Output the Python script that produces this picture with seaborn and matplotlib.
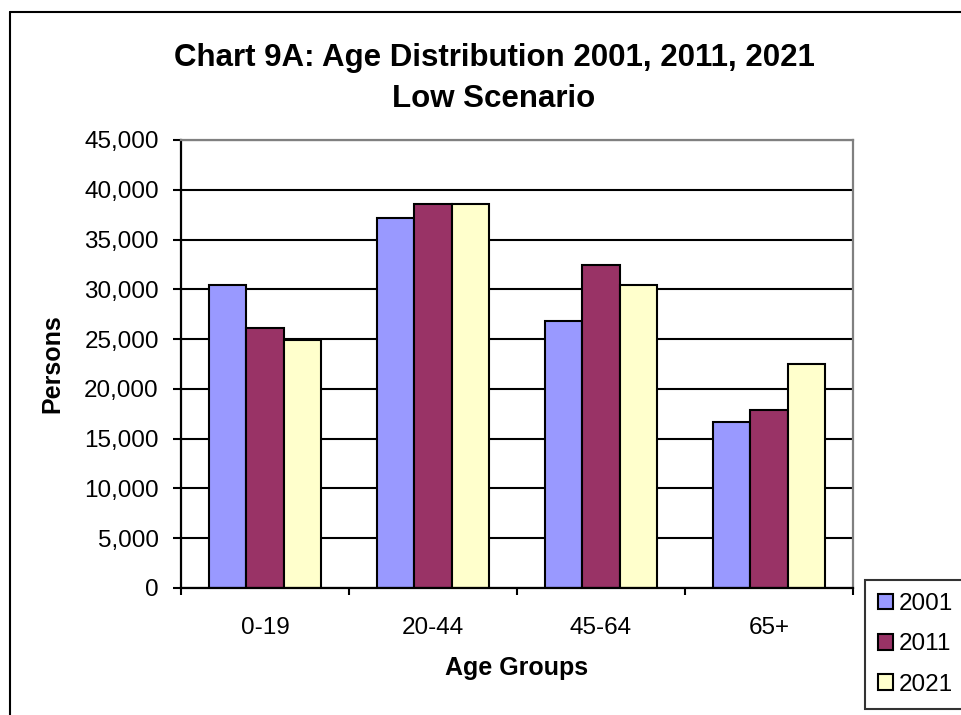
import matplotlib
matplotlib.use("Agg")
import matplotlib.pyplot as plt
import seaborn as sns
import pandas as pd
from matplotlib.lines import Line2D
from matplotlib.ticker import FuncFormatter, MultipleLocator, FixedLocator

age_groups = ["0-19", "20-44", "45-64", "65+"]
years = ["2001", "2011", "2021"]
values_2001 = [30400, 37200, 26800, 16700]
values_2011 = [26100, 38600, 32400, 17900]
values_2021 = [24900, 38600, 30400, 22500]
colors = ["#9999FF", "#993366", "#FFFFCC"]

title_line1 = "Chart 9A: Age Distribution 2001, 2011, 2021"
title_line2 = "Low Scenario"

df = pd.DataFrame({
    "Age Groups": age_groups * 3,
    "Year": [y for y in years for _ in age_groups],
    "Persons": values_2001 + values_2011 + values_2021,
})

sns.set_theme(style="white")
plt.rcParams['font.family'] = ['Liberation Sans', 'DejaVu Sans']

W, H = 961, 715
fig = plt.figure(figsize=(W / 100, H / 100), dpi=100)
ax = fig.add_axes([181 / W, 1 - 588 / H, 672 / W, 448 / H])

sns.barplot(data=df, x="Age Groups", y="Persons", hue="Year", palette=colors,
            width=0.667, gap=0, edgecolor="black", linewidth=1.5,
            saturation=1, errorbar=None, ax=ax)

ax.set_xlim(-0.5, len(age_groups) - 0.5)
ax.set_ylim(0, 45000)
ax.yaxis.set_major_locator(MultipleLocator(5000))
ax.yaxis.set_major_formatter(FuncFormatter(lambda v, p: f"{int(v):,}"))
ax.yaxis.grid(True, color="black", linewidth=1.5)
ax.xaxis.grid(False)
ax.set_axisbelow(True)

for s in ["left", "bottom"]:
    ax.spines[s].set_color("black")
    ax.spines[s].set_linewidth(1.6)
for s in ["top", "right"]:
    ax.spines[s].set_color("#808080")
    ax.spines[s].set_linewidth(1.6)
    ax.spines[s].set_visible(True)

ax.tick_params(axis="y", which="major", left=True, direction="out", length=6,
               width=1.5, color="black", labelsize=17.5, pad=10, labelcolor="black")
ax.xaxis.set_minor_locator(FixedLocator([i - 0.5 for i in range(len(age_groups) + 1)]))
ax.tick_params(axis="x", which="major", bottom=True, length=0, labelsize=17.5,
               pad=21, labelcolor="black")
ax.tick_params(axis="x", which="minor", bottom=True, direction="out", length=5,
               width=1.5, color="black")

ax.set_xlabel("Age Groups", fontsize=18, fontweight="bold", labelpad=12, color="black")
ax.set_ylabel("Persons", fontsize=18, fontweight="bold", labelpad=14, color="black")

handles, labels = ax.get_legend_handles_labels()
if ax.get_legend() is not None:
    ax.get_legend().remove()
for h in handles:
    h.set_edgecolor("black")
    h.set_linewidth(1.5)
leg = fig.legend(handles, labels, loc="lower left",
                 bbox_to_anchor=(865 / W, 6 / H), bbox_transform=fig.transFigure,
                 fontsize=17.5, frameon=True, fancybox=False, borderaxespad=0,
                 handlelength=0.6, handleheight=0.6, handletextpad=0.25,
                 labelspacing=0.75, borderpad=0.55)
leg.get_frame().set_edgecolor("black")
leg.get_frame().set_linewidth(1.5)
leg.get_frame().set_facecolor("white")
for t in leg.get_texts():
    t.set_color("black")

fig.text(494 / W, 1 - 66 / H, title_line1, ha="center", va="baseline",
         fontsize=22.5, fontweight="bold", color="black")
fig.text(494 / W, 1 - 107 / H, title_line2, ha="center", va="baseline",
         fontsize=22.5, fontweight="bold", color="black")

# outer chart frame
fig.add_artist(Line2D([10 / W, 10 / W], [-0.1, 1 - 12 / H], transform=fig.transFigure,
                      color="black", linewidth=1.5))
fig.add_artist(Line2D([10 / W, 1.1], [1 - 12 / H, 1 - 12 / H], transform=fig.transFigure,
                      color="black", linewidth=1.5))

fig.savefig("out.png", dpi=100)
